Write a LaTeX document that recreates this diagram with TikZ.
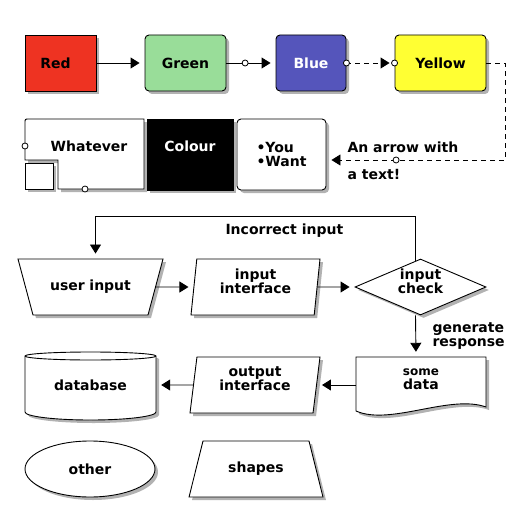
\documentclass[tikz,border=0pt]{standalone}
\usepackage{fontspec}
\setmainfont{DejaVu Sans}
\usetikzlibrary{arrows.meta,shapes.geometric,shadows}

\definecolor{cred}{HTML}{EE3322}
\definecolor{cgreen}{HTML}{99DD99}
\definecolor{cblue}{HTML}{5555BB}
\definecolor{cyellow}{HTML}{FFFF33}

\tikzset{
  shadowed/.style={drop shadow={shadow xshift=3pt,shadow yshift=-3pt,opacity=.3,fill=black}},
  box/.style={draw,line width=.9pt,shadowed,minimum height=56pt,inner sep=0pt},
  outline/.style={draw,line width=.9pt,fill=white,shadowed},
  dot/.style={circle,draw,solid,fill=white,line width=.8pt,minimum size=6pt,inner sep=0pt},
  link/.style={->,line width=.9pt,shorten >=5pt},
  dashlink/.style={link,dash pattern=on 5pt off 4pt},
  lift/.style={align=center,text depth=12pt},
  slab/.style={trapezium,trapezium left angle=#1,trapezium right angle=#1,
    align=center,text height=31pt,text depth=25pt,fill=white}
}

\begin{document}
\begin{tikzpicture}[x=1pt,y=-1pt,>={Triangle[length=9pt,width=11pt]},
  every node/.style={font=\bfseries\fontsize{14}{14}\selectfont}]
\useasboundingbox (0,0) rectangle (530,532);
% colour row
\node[box,fill=cred,minimum width=71pt] (red) at (60.5,63) {\hspace*{-10pt}Red};
\node[box,fill=cgreen,rounded corners=4pt,minimum width=81pt] (green) at (185.5,63) {Green};
\node[box,fill=cblue,rounded corners=4pt,minimum width=70pt,text=white] (blue) at (311,63) {Blue};
\node[box,fill=cyellow,rounded corners=4pt,minimum width=91pt] (yellow) at (440.5,63) {Yellow};
\draw[link] (red) -- (green);
\draw[link] (green) -- node[dot,pos=.38] {} (blue);
\draw[dashlink] (blue) -- node[dot,pos=0] {} node[dot,pos=1] {} (yellow);

% second row
\draw[outline] (25,160) -- (25,123) .. controls (25,119) .. (29,119) -- (144,119) -- (144,189) -- (58,189) -- (58,160) -- cycle;
\draw[outline] (25,163) rectangle (53,189);
\node (whatever) at (89,146) {Whatever};
\node[dot] (wdot1) at (25,146) {};
\node[dot] (wdot2) at (85,189) {};
\node[box,fill=black,text=white,minimum width=86pt,minimum height=71pt,text height=10pt,text depth=17pt] (colour) at (190,154.5) {Colour};
\node[box,fill=white,rounded corners=4pt,minimum width=89pt,minimum height=71pt,align=left] (want) at (281.5,154.5) {•You\\•Want};
\coordinate (bend) at (505,160);
\draw[dashlink] (yellow) -| (bend) -- node[dot,pos=.61] {} (bend -| want.east);
\node[anchor=west] (note1) at (344,147) {An arrow with};
\node[anchor=west] (note2) at (344,174) {a text!};

% flow chart
\node[box,slab=75,shape border rotate=180,text width=115pt] (user) at (90.5,287) {user input};
\node[box,trapezium,trapezium stretches body,trapezium left angle=81,trapezium right angle=99,minimum width=129pt,fill=white,lift] (iface) at (255.5,287) {input\\interface};
\node[box,diamond,aspect=2.34,inner sep=-2pt,minimum width=131pt,fill=white,lift] (check) at (420.5,287) {input\\check};
\draw[link] (user) -- (iface);
\draw[link] (iface) -- (check);
\draw[link] ([xshift=-5pt,yshift=-2pt]check.north) -- ++(0,-44) -| ([xshift=5pt]user.north);
\node[anchor=west] (again) at (222,231) {Incorrect input};

\draw[outline] (25,356) -- (25,412) arc[start angle=180,end angle=360,x radius=65.5pt,y radius=8pt] -- (156,356) arc[start angle=0,end angle=180,x radius=65.5pt,y radius=4pt] -- cycle;
\draw[line width=.9pt] (25,356) arc[start angle=180,end angle=360,x radius=65.5pt,y radius=4pt];
\node[minimum width=131pt,minimum height=68pt] (db) at (90.5,385) {database};
\node[box,trapezium,trapezium stretches body,trapezium left angle=79,trapezium right angle=101,minimum width=130pt,fill=white,lift] (oface) at (255,385) {output\\interface};
\draw[outline] (356,357) -- (356,411) .. controls (390,426) and (450,394) .. (486,407) -- (486,357) -- cycle;
\node[minimum width=130pt,minimum height=56pt,lift] (data) at (421,385) {{\fontsize{12}{12}\selectfont some}\\data};
\draw[link] ([xshift=-5pt]check.south) -- ([xshift=-5pt]data.north);
\node[anchor=west,align=left] (resp) at (429,336) {generate\\response};
\draw[link] (data) -- (oface);
\draw[link] (oface) -- (db);

% loose shapes
\node[box,ellipse,minimum width=130pt,fill=white] (other) at (90,469) {other};
\node[box,slab=76,text width=106pt] (shapes) at (256,469) {shapes};
\end{tikzpicture}
\end{document}
